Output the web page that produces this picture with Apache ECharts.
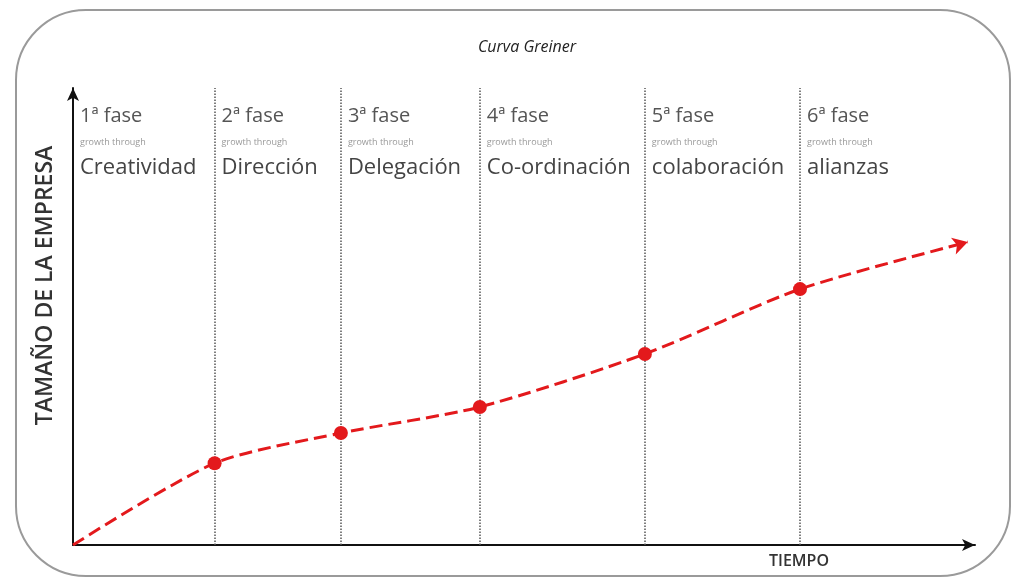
<!DOCTYPE html>
<html>
<head>
<meta charset="utf-8">
<script src="https://cdn.jsdelivr.net/npm/echarts@6/dist/echarts.min.js"></script>
<style>
  html, body { margin: 0; padding: 0; background: #fff; }
  #main { width: 1022px; height: 584px; }
</style>
</head>
<body>
<div id="main"></div>
<script>
// tiempo (0-100) y tamaño (0-100)
const timeValues = [0, 15.7, 29.7, 45.1, 63.4, 80.6, 99.2]
const sizeValues = [0, 17.9, 24.5, 30.2, 41.8, 56.0, 66.3]
// fases
const phaseNames = ['1ª fase', '2ª fase', '3ª fase', '4ª fase', '5ª fase', '6ª fase']
const phaseSub = ['growth through', 'growth through', 'growth through', 'growth through', 'growth through', 'growth through']
const phaseWords = ['Creatividad', 'Dirección', 'Delegación', 'Co-ordinación', 'colaboración', 'alianzas']
const phaseStart = [0, 15.7, 29.7, 45.1, 63.4, 80.6]

const FONT = 'Open Sans'
const main = echarts.init(document.getElementById('main'))

const lastIdx = timeValues.length - 1
const points = timeValues.map((t, i) => {
  const item = { value: [t, sizeValues[i]] }
  if (i === 0) item.symbol = 'none'
  if (i === lastIdx) {
    item.symbol = 'arrow'
    item.symbolSize = [13, 15]
    item.symbolRotate = -74
  }
  return item
})

const options = {
  backgroundColor: '#ffffff',
  animation: false,
  textStyle: { fontFamily: FONT },
  title: {
    text: 'Curva Greiner',
    left: 522,
    textAlign: 'center',
    top: 34,
    textStyle: { fontSize: 16, fontStyle: 'italic', fontWeight: 'normal', color: '#222', fontFamily: FONT }
  },
  grid: { left: 73, right: 47, top: 88, bottom: 39 },
  xAxis: {
    type: 'value',
    min: 0,
    max: 100,
    axisLine: { show: true, symbol: ['none', 'arrow'], symbolSize: [9, 13], lineStyle: { color: '#111', width: 2 } },
    axisTick: { show: false },
    axisLabel: { show: false },
    splitLine: { show: false }
  },
  yAxis: {
    type: 'value',
    min: 0,
    max: 100,
    name: 'TAMAÑO DE LA EMPRESA',
    nameLocation: 'middle',
    nameGap: 16,
    nameTextStyle: { fontSize: 23, fontWeight: 600, color: '#333', fontFamily: FONT, padding: [0, 0, 0, 62] },
    axisLine: { show: true, symbol: ['none', 'arrow'], symbolSize: [9, 13], lineStyle: { color: '#111', width: 2 } },
    axisTick: { show: false },
    axisLabel: { show: false },
    splitLine: { show: false }
  },
  series: [
    {
      type: 'line',
      data: points,
      smooth: 0.25,
      symbol: 'circle',
      symbolSize: 14,
      itemStyle: { color: '#e3191c' },
      lineStyle: { color: '#e3191c', width: 3, type: [13, 6] },
      z: 5,
      markLine: {
        silent: true,
        symbol: 'none',
        label: { show: false },
        lineStyle: { color: '#555', type: 'dotted', width: 1.5 },
        data: phaseStart.slice(1).map(v => ({ xAxis: v }))
      }
    }
  ]
}

main.setOption(options)

// textos de las fases y borde redondeado
const graphics = [
  {
    type: 'rect',
    shape: { x: 16, y: 10, width: 994, height: 566, r: 70 },
    style: { fill: 'none', stroke: '#9a9a9a', lineWidth: 2 },
    silent: true
  },
  {
    type: 'text',
    left: 769,
    top: 553,
    style: { text: 'TIEMPO', fontSize: 16, fontWeight: 600, fontFamily: FONT, fill: '#333' }
  }
]
phaseStart.forEach((v, i) => {
  const px = main.convertToPixel({ gridIndex: 0 }, [v, 0])[0] + 7
  graphics.push({
    type: 'text',
    x: px,
    y: 103,
    style: {
      text: '{a|' + phaseNames[i] + '}\n{b|' + phaseSub[i] + '}\n{c|' + phaseWords[i] + '}',
      fontFamily: FONT,
      rich: {
        a: { fontSize: 20, fontFamily: FONT, fill: '#555', lineHeight: 26 },
        b: { fontSize: 9, fontFamily: FONT, fill: '#999', lineHeight: 27 },
        c: { fontSize: 22, fontFamily: FONT, fill: '#444', lineHeight: 24 }
      }
    }
  })
})
main.setOption({ graphic: graphics })
</script>
</body>
</html>
